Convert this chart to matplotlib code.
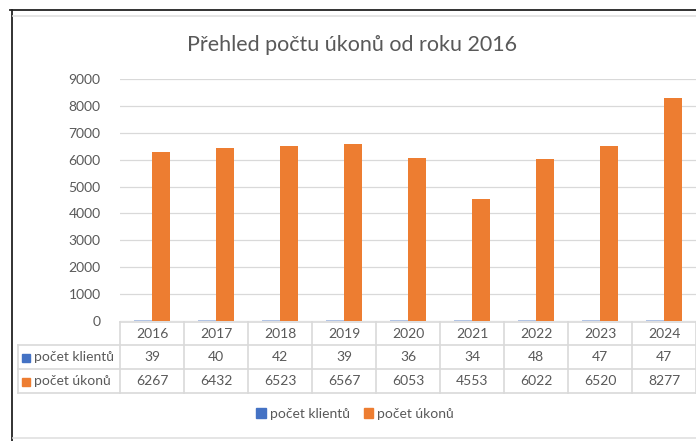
import matplotlib
matplotlib.use("Agg")
import matplotlib.pyplot as plt
import matplotlib.transforms as mtransforms
from matplotlib.lines import Line2D
from matplotlib.patches import Patch, Rectangle
import numpy as np

plt.rcParams['font.family'] = ['Lato', 'DejaVu Sans']

years = ['2016', '2017', '2018', '2019', '2020', '2021', '2022', '2023', '2024']
klienti = [39, 40, 42, 39, 36, 34, 48, 47, 47]
ukony = [6267, 6432, 6523, 6567, 6053, 4553, 6022, 6520, 8277]
series_names = ['počet klientů', 'počet úkonů']
colors = ['#4472C4', '#ED7D31']
title = 'Přehled počtu úkonů od roku 2016'

W, H = 696, 441
fig = plt.figure(figsize=(W/100, H/100), dpi=100)
ax = fig.add_axes([120/W, 1-321/H, (696-120)/W, 242/H])

x = np.arange(len(years))
bw = 18/64
ax.bar(x - bw/2, klienti, width=bw, color=colors[0], alpha=0.4)
ax.bar(x + bw/2, ukony, width=bw, color=colors[1])
ax.set_xlim(-0.5, len(years)-0.5)
ax.set_ylim(0, 9000)
ax.set_yticks(range(0, 9001, 1000))
ax.yaxis.grid(True, color='#d9d9d9', lw=0.9)
ax.set_axisbelow(True)
for s in ax.spines.values():
    s.set_visible(False)
ax.tick_params(axis='y', length=0, pad=14, labelsize=10, labelcolor='#595959')
ax.tick_params(axis='x', length=0, labelbottom=False)

grid_c = '#d9d9d9'
txt_c = '#595959'
tr = mtransforms.blended_transform_factory(ax.transData, fig.transFigure)
def fy(py):
    return 1 - py/H
rows = [322, 345, 369, 393]
xl = -0.5 - (120-18)/64
xr = len(years) - 0.5
# horizontal lines
ax.add_artist(Line2D([-0.5, xr], [fy(rows[0])]*2, transform=tr, color=grid_c, lw=1.2, clip_on=False))
for r in rows[1:]:
    ax.add_artist(Line2D([xl, xr], [fy(r)]*2, transform=tr, color=grid_c, lw=1.2, clip_on=False))
# vertical lines
for i in range(len(years)+1):
    xv = i - 0.5
    ax.add_artist(Line2D([xv, xv], [fy(rows[0]), fy(rows[3])], transform=tr, color=grid_c, lw=1.2, clip_on=False))
ax.add_artist(Line2D([xl, xl], [fy(rows[1]), fy(rows[3])], transform=tr, color=grid_c, lw=1.2, clip_on=False))

fs = 10
for i, yr in enumerate(years):
    ax.text(i, fy((rows[0]+rows[1])/2), yr, transform=tr, ha='center', va='center', fontsize=fs, color=txt_c, clip_on=False)
    ax.text(i, fy((rows[1]+rows[2])/2), str(klienti[i]), transform=tr, ha='center', va='center', fontsize=fs, color=txt_c, clip_on=False)
    ax.text(i, fy((rows[2]+rows[3])/2), str(ukony[i]), transform=tr, ha='center', va='center', fontsize=fs, color=txt_c, clip_on=False)

for k, (name, c) in enumerate(zip(series_names, colors)):
    yc = (rows[1+k] + rows[2+k]) / 2
    fig.add_artist(Rectangle((22/W, fy(yc+4.5)), 8/W, 8/H, transform=fig.transFigure, color=c))
    fig.text(34/W, fy(yc), name, ha='left', va='center', fontsize=fs, color=txt_c)

handles = [Patch(color=c) for c in colors]
fig.legend(handles, series_names, loc='center', bbox_to_anchor=(355/W, fy(414)), ncol=2, frameon=False,
           fontsize=fs, labelcolor=txt_c, handlelength=0.65, handleheight=0.65, handletextpad=0.3,
           columnspacing=1.0)

fig.text(352/W, fy(45), title, ha='center', va='center', fontsize=15.5, color=txt_c)

# chart frame
fig.add_artist(Line2D([10/W, 1], [fy(10)]*2, transform=fig.transFigure, color='#222222', lw=1.3))
fig.add_artist(Line2D([12/W, 12/W], [fy(10), 0], transform=fig.transFigure, color='#222222', lw=1.3))
fig.add_artist(Line2D([13/W, 1], [fy(16)]*2, transform=fig.transFigure, color='#e0e0e0', lw=1.2))
fig.add_artist(Line2D([13/W, 1], [fy(438)]*2, transform=fig.transFigure, color='#e0e0e0', lw=1.2))

fig.savefig('out.png', dpi=100)
